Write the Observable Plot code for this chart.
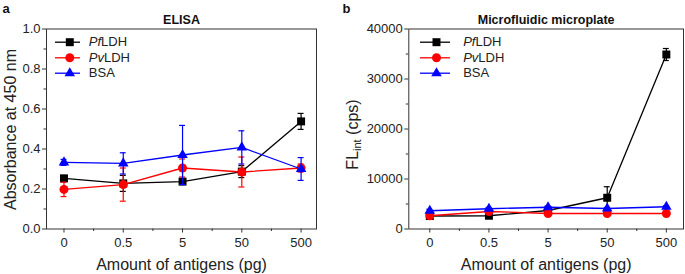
<!DOCTYPE html>
<html><head><meta charset="utf-8">
<script src="https://cdn.jsdelivr.net/npm/d3@7"></script>
<script src="https://cdn.jsdelivr.net/npm/@observablehq/plot@0.6"></script>
<style>
body{margin:0;background:#fff;}
#wrap{position:relative;width:685px;height:274px;font-family:"Liberation Sans",Arial,sans-serif;}
#wrap svg{position:absolute;top:0;overflow:visible;}
</style></head><body><div id="wrap"></div>
<script>
// categories (x positions are category indices)
const amounts = ["0", "0.5", "5", "50", "500"];
const seriesNames = ["PfLDH", "PvLDH", "BSA"];
const seriesColors = ["#000000", "#ff0000", "#0000ff"];
const seriesSymbols = ["square", "circle", "triangle"];

// Panel a: ELISA (absorbance at 450 nm)
const elisaPf = [0.253, 0.228, 0.237, 0.287, 0.538];
const elisaPfErr = [0.015, 0.040, 0.012, 0.030, 0.040];
const elisaPv = [0.198, 0.222, 0.305, 0.285, 0.305];
const elisaPvErr = [0.036, 0.083, 0.045, 0.075, 0.020];
const elisaBsa = [0.333, 0.328, 0.370, 0.408, 0.300];
const elisaBsaErr = [0.015, 0.053, 0.148, 0.083, 0.057];
const elisaTicks = [0, 0.2, 0.4, 0.6, 0.8, 1.0];
const elisaMinor = [0.1, 0.3, 0.5, 0.7, 0.9];

// Panel b: Microfluidic microplate (FL_int, cps)
const mfPf = [2600, 2650, 3700, 6250, 34900];
const mfPfErr = [300, 250, 300, 2200, 1200];
const mfPv = [2650, 3500, 3100, 3100, 3100];
const mfPvErr = [200, 300, 200, 150, 150];
const mfBsa = [3650, 4050, 4350, 4100, 4450];
const mfBsaErr = [300, 250, 250, 200, 200];
const mfTicks = [0, 10000, 20000, 30000, 40000];
const mfMinor = [5000, 15000, 25000, 35000];

const TOP = 28.5, BOTTOM = 228.5, H = 274;
const FONT = "Liberation Sans, Arial, sans-serif";

const panels = [
  {left: 0, width: 340, mL: 46, mR: 24, xDomain: [-0.295, 4.26], yDomain: [0, 1],
   yTicks: elisaTicks, yMinor: elisaMinor, yFmt: d3.format(".1f"),
   values: [elisaPf, elisaPv, elisaBsa], errs: [elisaPfErr, elisaPvErr, elisaBsaErr],
   title: "ELISA", label: "a", yLabel: "Absorbance at 450 nm", yLabelX: 15, yLabelCy: 129,
   leg: {x1: 55, x2: 80, xm: 69.3, xt: 88.3, ys: [41.7, 57.3, 72.7]}},
  {left: 340, width: 345, mL: 68.3, mR: 2, xDomain: [-0.355, 4.29], yDomain: [0, 40000],
   yTicks: mfTicks, yMinor: mfMinor, yFmt: d => String(d),
   values: [mfPf, mfPv, mfBsa], errs: [mfPfErr, mfPvErr, mfBsaErr],
   title: "Microfluidic microplate", label: "b", yLabel: "FL_int (cps)", yLabelX: 17.5, yLabelCy: 134,
   leg: {x1: 80, x2: 110, xm: 96, xt: 122.7, ys: [41.7, 57.3, 72.7]}}
];

function build(p) {
  const sx = d3.scaleLinear().domain(p.xDomain).range([p.mL, p.width - p.mR]);
  const sy = d3.scaleLinear().domain(p.yDomain).range([BOTTOM, TOP]);
  const marks = [
    Plot.axisX([0, 1, 2, 3, 4], {tickSize: 4, tickPadding: 5, tickFormat: i => amounts[i], fontSize: 13, fill: "#222", stroke: "#333", label: null}),
    Plot.axisX([0.5, 1.5, 2.5, 3.5], {tickSize: 2.5, tickFormat: () => "", stroke: "#333", label: null}),
    Plot.axisY(p.yTicks, {tickSize: 4, tickPadding: 2, tickFormat: p.yFmt, fontSize: 13, fill: "#222", stroke: "#333", label: null}),
    Plot.axisY(p.yMinor, {tickSize: 2.5, tickFormat: () => "", stroke: "#333", label: null}),
    Plot.frame({stroke: "#333", strokeWidth: 1})
  ];
  seriesNames.forEach((name, k) => {
    const rows = p.values[k].map((v, i) => ({i, v, e: p.errs[k][i]}));
    const c = seriesColors[k];
    const r = seriesSymbols[k] === "triangle" ? 3.9 : 4.5;
    marks.push(
      Plot.line(rows, {x: "i", y: "v", stroke: c, strokeWidth: 1.3}),
      Plot.ruleX(rows, {x: "i", y1: d => d.v - d.e, y2: d => d.v + d.e, stroke: c, strokeWidth: 1.2}),
      Plot.ruleY(rows, {y: d => d.v + d.e, x1: d => d.i - 0.05, x2: d => d.i + 0.05, stroke: c, strokeWidth: 1.2}),
      Plot.ruleY(rows, {y: d => d.v - d.e, x1: d => d.i - 0.05, x2: d => d.i + 0.05, stroke: c, strokeWidth: 1.2}),
      Plot.dot(rows, {x: "i", y: "v", symbol: seriesSymbols[k], fill: c, stroke: "none", r})
    );
    // legend entry
    const ly = sy.invert(p.leg.ys[k]);
    marks.push(
      Plot.ruleY([ly], {x1: sx.invert(p.leg.x1), x2: sx.invert(p.leg.x2), stroke: c, strokeWidth: 1.3}),
      Plot.dot([ly], {x: () => sx.invert(p.leg.xm), y: d => d, symbol: seriesSymbols[k], fill: c, stroke: "none", r}),
      Plot.text([name], {x: () => sx.invert(p.leg.xt), y: () => ly, text: d => d, textAnchor: "start", lineAnchor: "middle", fontSize: 13, fill: "#222"})
    );
  });
  marks.push(
    Plot.text([p.title], {frameAnchor: "top", dy: 23.2 - TOP, lineAnchor: "bottom", text: d => d, fontWeight: "bold", fontSize: 12.5, fill: "#111"}),
    Plot.text([p.label], {frameAnchor: "top-left", dx: 2 - p.mL, dy: 12 - TOP, lineAnchor: "bottom", textAnchor: "start", text: d => d, fontWeight: "bold", fontSize: 13, fill: "#111"}),
    Plot.text(["Amount of antigens (pg)"], {frameAnchor: "bottom", dy: 269.5 - BOTTOM, lineAnchor: "bottom", text: d => d, fontSize: 16, fill: "#222"}),
    Plot.text([p.yLabel], {frameAnchor: "left", dx: p.yLabelX - p.mL, dy: p.yLabelCy - (TOP + BOTTOM) / 2, rotate: -90, lineAnchor: "bottom", textAnchor: "middle", text: d => d, fontSize: 16, fill: "#222"})
  );
  const svg = Plot.plot({
    width: p.width, height: H,
    marginLeft: p.mL, marginRight: p.mR, marginTop: TOP, marginBottom: H - BOTTOM,
    style: {fontFamily: FONT, background: "transparent", overflow: "visible"},
    x: {type: "linear", domain: p.xDomain},
    y: {type: "linear", domain: p.yDomain},
    marks
  });
  svg.style.left = p.left + "px";
  // rich text: italic species prefixes and subscript
  const NS = "http://www.w3.org/2000/svg";
  svg.querySelectorAll("text").forEach(t => {
    const s = t.textContent;
    if (s === "PfLDH" || s === "PvLDH") {
      t.textContent = "";
      const it = document.createElementNS(NS, "tspan");
      it.setAttribute("font-style", "italic");
      it.textContent = s.slice(0, 2);
      t.appendChild(it);
      t.appendChild(document.createTextNode("LDH"));
    } else if (s === "FL_int (cps)") {
      t.textContent = "";
      t.appendChild(document.createTextNode("FL"));
      const sub = document.createElementNS(NS, "tspan");
      sub.setAttribute("font-size", "11");
      sub.setAttribute("dy", "3");
      sub.textContent = "int";
      t.appendChild(sub);
      const rest = document.createElementNS(NS, "tspan");
      rest.setAttribute("dy", "-3");
      rest.textContent = " (cps)";
      t.appendChild(rest);
    }
  });
  return svg;
}

const wrap = document.getElementById("wrap");
panels.forEach(p => wrap.appendChild(build(p)));
</script></body></html>
